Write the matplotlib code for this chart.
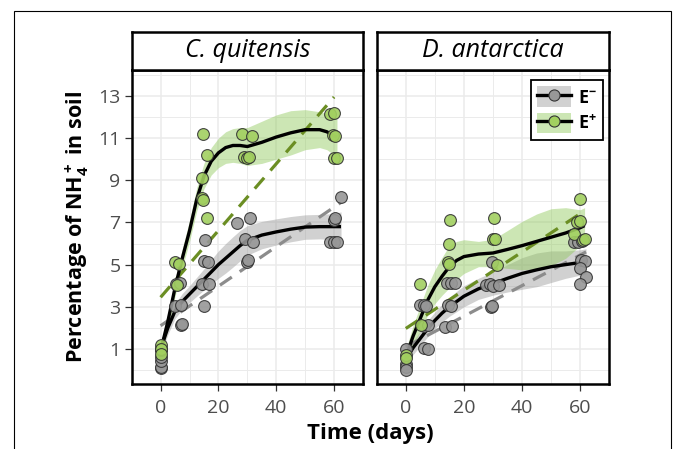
import matplotlib

matplotlib.use("Agg")
import matplotlib.pyplot as plt  # noqa: E402
from matplotlib.legend_handler import HandlerTuple  # noqa: E402
from matplotlib.lines import Line2D  # noqa: E402
from matplotlib.patches import Patch, Rectangle  # noqa: E402

plt.rcParams["font.family"] = ["Open Sans", "DejaVu Sans"]
plt.rcParams["mathtext.fontset"] = "custom"
plt.rcParams["mathtext.rm"] = "Open Sans:bold"
plt.rcParams["mathtext.bf"] = "Open Sans:bold"
plt.rcParams["mathtext.it"] = "Open Sans:bold"

SPECIES = ["C. quitensis", "D. antarctica"]
X_TICKS = [0, 20, 40, 60]
Y_TICKS = [1, 3, 5, 7, 9, 11, 13]

cq_neg_day = [0, 0, 0, 0, 0, 0, 5, 7, 5.3, 6.6, 7, 7.5,
              15.2, 15, 16.3, 14.2, 16.8, 15, 26.5, 31, 29.3, 32, 29.8, 30.3,
              58.6, 59.8, 61, 59.8, 60.2, 62.4]
cq_neg_val = [0.1, 0.15, 0.45, 0.6, 0.95, 1.0, 3.05, 3.1, 4.1, 4.15, 2.15, 2.2,
              6.15, 5.15, 5.1, 4.1, 4.1, 3.05, 6.95, 7.2, 6.2, 6.05, 5.1, 5.2,
              6.05, 6.05, 6.05, 7.1, 7.2, 8.2]
cq_pos_day = [0, 0, 0, 5, 6.3, 5.8, 14.7, 16.1, 14.3, 14.4, 14.8, 16,
              28.2, 31.5, 29, 29.8, 30.6, 58.7, 59.8, 59.6, 60.3, 60, 60.9]
cq_pos_val = [1.2, 1.0, 0.75, 5.1, 5.05, 4.05, 11.2, 10.2, 9.1, 8.15, 8.05, 7.2,
              11.2, 11.1, 10.1, 10.05, 10.1, 12.15, 12.2, 11.15, 11.1, 10.05, 10.05]
da_neg_day = [0, 0, 0, 0, 4.9, 6.2, 7.1, 6.4, 7.5, 6.3, 7.8,
              14.1, 15.5, 16.8, 14.6, 15.6, 13.6, 15.8,
              27.5, 28.8, 30, 32, 29.5, 29.3, 29.8,
              57.8, 59.3, 60.5, 60.3, 61.5, 59.8, 62, 59.9]
da_neg_val = [1.0, 0.3, 0.15, 0.0, 3.1, 3.1, 3.05, 2.1, 2.15, 1.05, 1.0,
              4.15, 4.15, 4.15, 3.1, 3.05, 2.05, 2.1,
              4.05, 4.1, 4.0, 4.05, 5.1, 3.0, 3.05,
              6.05, 6.05, 6.1, 5.2, 5.15, 4.85, 4.4, 4.1]
da_pos_day = [0, 0.2, 4.9, 5.3, 15.2, 14.7, 14.4, 14.9,
              30.2, 29.9, 30.6, 31.5, 60, 58.8, 60, 57.9, 61, 61.5]
da_pos_val = [0.7, 0.55, 4.1, 2.15, 7.1, 6.0, 5.1, 5.05,
              7.2, 6.2, 6.2, 5.0, 8.1, 7.0, 7.05, 6.45, 6.15, 6.2]

# loess curves and their confidence half-widths
cq_pos_fit_day = [0, 2.5, 5, 7.5, 10, 12.5, 15, 17.5, 20, 22.5, 25, 27.5, 30,
                  32.5, 35, 40, 45, 50, 55, 57.5, 60, 61]
cq_pos_fit = [0.9, 2.3, 3.9, 5.3, 6.6, 8.1, 9.2, 9.9, 10.3, 10.55, 10.65, 10.65,
              10.6, 10.7, 10.8, 11.05, 11.25, 11.4, 11.4, 11.3, 11.1, 11.05]
cq_pos_ci = [0.3, 0.35, 0.4, 0.45, 0.5, 0.55, 0.6, 0.65, 0.7, 0.75, 0.8, 0.85,
             0.9, 0.95, 1.0, 1.05, 1.05, 0.95, 0.85, 0.85, 0.9, 0.95]
cq_neg_fit_day = [0, 2.5, 5, 7.5, 10, 12.5, 15, 17.5, 20, 22.5, 25, 27.5, 30,
                  35, 40, 45, 50, 55, 60, 62.4]
cq_neg_fit = [1.0, 2.0, 2.8, 3.25, 3.6, 3.95, 4.3, 4.65, 5.0, 5.3, 5.6, 5.9,
              6.15, 6.4, 6.55, 6.68, 6.78, 6.8, 6.8, 6.8]
cq_neg_ci = [0.3, 0.32, 0.35, 0.38, 0.4, 0.45, 0.5, 0.58, 0.65, 0.7, 0.72, 0.72,
             0.7, 0.65, 0.62, 0.6, 0.58, 0.58, 0.62, 0.7]
da_pos_fit_day = [0, 2.5, 5, 7.5, 10, 12.5, 15, 17.5, 20, 25, 30, 35, 40, 45,
                  50, 55, 60, 61.5]
da_pos_fit = [0.6, 1.6, 2.45, 3.3, 3.95, 4.45, 4.9, 5.2, 5.38, 5.5, 5.55, 5.72,
              5.9, 6.1, 6.3, 6.5, 6.75, 6.85]
da_pos_ci = [0.35, 0.5, 0.6, 0.7, 0.8, 0.9, 1.0, 0.9, 0.8, 0.6, 0.65, 0.9,
             1.15, 1.3, 1.35, 1.2, 0.85, 0.85]
da_neg_fit_day = [0, 2.5, 5, 7.5, 10, 12.5, 15, 17.5, 20, 25, 30, 35, 40, 45,
                  50, 55, 60, 62]
da_neg_fit = [0.5, 1.05, 1.5, 1.95, 2.35, 2.7, 3.0, 3.25, 3.5, 3.85, 4.1, 4.35,
              4.58, 4.75, 4.9, 5.0, 5.1, 5.15]
da_neg_ci = [0.3, 0.32, 0.35, 0.38, 0.4, 0.42, 0.45, 0.48, 0.5, 0.5, 0.55, 0.65,
             0.75, 0.8, 0.75, 0.65, 0.6, 0.6]

# linear fits (dashed), end points
cq_pos_lm_day, cq_pos_lm = [0, 60], [3.45, 12.95]
cq_neg_lm_day, cq_neg_lm = [0, 62.4], [2.1, 7.95]
da_pos_lm_day, da_pos_lm = [0, 61.5], [1.97, 7.55]
da_neg_lm_day, da_neg_lm = [0, 62], [1.1, 5.6]

GREEN_PT = "#A2D060"
GRAY_PT = "#979797"
GREEN_BAND = "#8FC95A"
GRAY_BAND = "#9A9A9A"
GREEN_DASH = "#6B8E23"
GRAY_DASH = "#8C8C8C"

W, H = 673, 449
fig = plt.figure(figsize=(W / 100, H / 100), dpi=100)
fig.add_artist(Rectangle((14 / W, -0.05), (671 - 14) / W, 1 - 11 / H + 0.05,
                         transform=fig.transFigure, fill=False, lw=0.8, ec="black"))

panels = [
    dict(left=131.7, right=363.0,
         neg=(cq_neg_day, cq_neg_val, cq_neg_fit_day, cq_neg_fit, cq_neg_ci, cq_neg_lm_day, cq_neg_lm),
         pos=(cq_pos_day, cq_pos_val, cq_pos_fit_day, cq_pos_fit, cq_pos_ci, cq_pos_lm_day, cq_pos_lm)),
    dict(left=376.7, right=609.3,
         neg=(da_neg_day, da_neg_val, da_neg_fit_day, da_neg_fit, da_neg_ci, da_neg_lm_day, da_neg_lm),
         pos=(da_pos_day, da_pos_val, da_pos_fit_day, da_pos_fit, da_pos_ci, da_pos_lm_day, da_pos_lm)),
]

top, bottom, strip_top = 70.0, 383.5, 31.7
axes = []
for i, p in enumerate(panels):
    ax = fig.add_axes([p["left"] / W, 1 - bottom / H, (p["right"] - p["left"]) / W, (bottom - top) / H])
    axes.append(ax)
    ax.set_xlim(-7.8, 67.8)
    ax.set_ylim(-0.64, 14.23)
    ax.set_xticks(X_TICKS)
    ax.set_yticks(Y_TICKS)
    ax.set_xticks(range(-10, 71, 10), minor=True)
    ax.set_yticks(range(0, 15, 2), minor=True)
    ax.grid(True, which="major", color="#EBEBEB", lw=1.1)
    ax.grid(True, which="minor", color="#EBEBEB", lw=0.7)
    ax.set_axisbelow(True)
    ax.tick_params(which="minor", length=0)
    ax.tick_params(which="major", labelsize=14, labelcolor="#4D4D4D", color="#333333",
                   length=5, width=0.9)
    ax.tick_params(axis="x", pad=6)
    ax.tick_params(axis="y", pad=3)
    if i == 1:
        ax.tick_params(axis="y", left=False, labelleft=False)
    for s in ax.spines.values():
        s.set_linewidth(1.8)
        s.set_color("black")

    for key, band, dash in (("neg", GRAY_BAND, GRAY_DASH), ("pos", GREEN_BAND, GREEN_DASH)):
        d, v, fd, fv, ci, ld, lv = p[key]
        lo = [a - b for a, b in zip(fv, ci)]
        hi = [a + b for a, b in zip(fv, ci)]
        ax.fill_between(fd, lo, hi, color=band, alpha=0.45, lw=0, zorder=2)
        ax.plot(ld, lv, color=dash, lw=2.3, ls=(0, (4.5, 3)), zorder=3)
    for key in ("neg", "pos"):
        fd, fv = p[key][2], p[key][3]
        ax.plot(fd, fv, color="black", lw=2.4, zorder=4, solid_capstyle="butt")
    for key, pt in (("neg", GRAY_PT), ("pos", GREEN_PT)):
        d, v = p[key][0], p[key][1]
        ax.scatter(d, v, s=72, color=pt, edgecolor="#333333", linewidth=0.8,
                   alpha=0.9, zorder=5)

    sax = fig.add_axes([p["left"] / W, 1 - top / H, (p["right"] - p["left"]) / W, (top - strip_top) / H])
    sax.set_xticks([])
    sax.set_yticks([])
    sax.set_facecolor("white")
    for s in sax.spines.values():
        s.set_linewidth(1.8)
    sax.text(0.5, 0.5, SPECIES[i], style="italic", fontsize=18, ha="center", va="center",
             transform=sax.transAxes)

axes[0].set_ylabel(r"Percentage of NH$_4^+$ in soil", fontsize=15.5, fontweight="bold", labelpad=5)
fig.text((363.0 + 376.7) / 2 / W, 1 - 434 / H, "Time (days)", fontsize=16, fontweight="bold",
         ha="center", va="center")

h_neg = (Patch(facecolor=GRAY_BAND, alpha=0.45, lw=0),
         Line2D([], [], color="black", lw=2.4, marker="o", markersize=8,
                markerfacecolor=GRAY_PT, markeredgecolor="#333333", markeredgewidth=0.8))
h_pos = (Patch(facecolor=GREEN_BAND, alpha=0.45, lw=0),
         Line2D([], [], color="black", lw=2.4, marker="o", markersize=8,
                markerfacecolor=GREEN_PT, markeredgecolor="#333333", markeredgewidth=0.8))
leg = axes[1].legend([h_neg, h_pos], [r"$\mathbf{E^{-}}$", r"$\mathbf{E^{+}}$"],
                     handler_map={tuple: HandlerTuple(ndivide=1, pad=0)},
                     loc="upper right", bbox_to_anchor=(0.973, 0.968), borderaxespad=0,
                     fancybox=False, edgecolor="black", framealpha=1, fontsize=13,
                     handlelength=1.9, handleheight=1.4, handletextpad=0.35,
                     borderpad=0.35, labelspacing=0.3)
leg.get_frame().set_linewidth(1.3)

fig.savefig("out.png", dpi=100)
